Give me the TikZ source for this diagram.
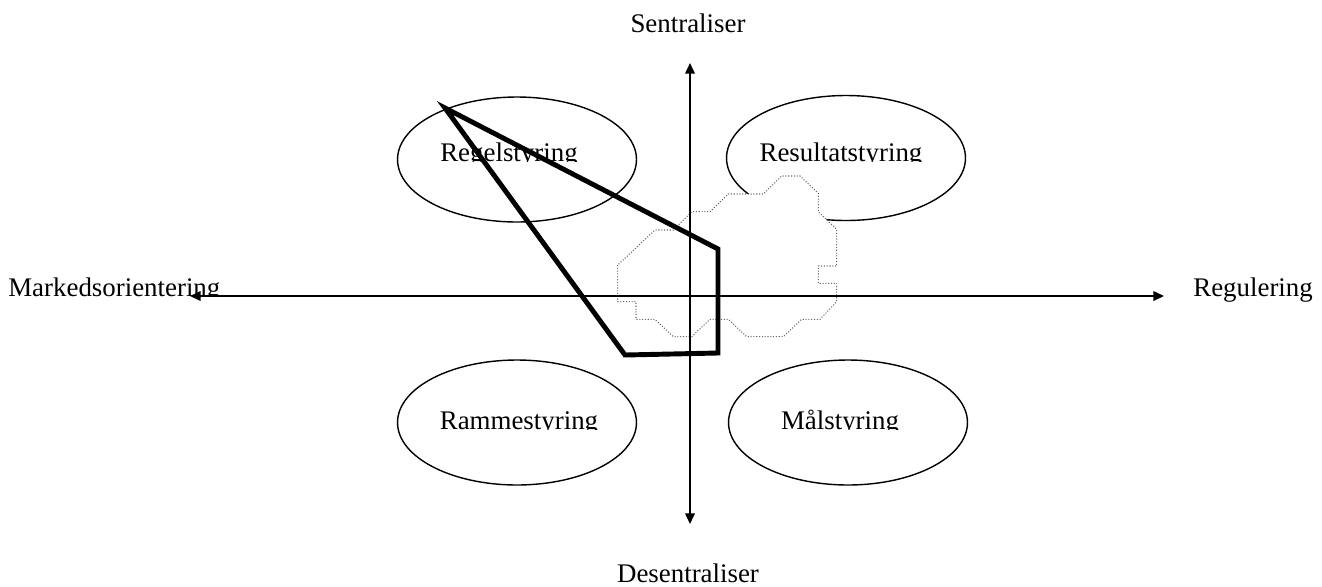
\documentclass[tikz,border=0pt]{standalone}
\usepackage{fontspec}
\setmainfont{Liberation Serif}
\usetikzlibrary{arrows.meta,shapes.geometric}

\begin{document}
\begin{tikzpicture}[x=0.02cm,y=-0.02cm,
  ell/.style={draw,ellipse,line width=0.8pt,minimum width=4.78cm,minimum height=2.5cm},
  txt/.style={anchor=base,inner sep=0pt,font=\fontsize{15.3}{18}\selectfont},
  axis/.style={line width=1pt,{Triangle[length=6pt,width=5.4pt]}-{Triangle[length=6pt,width=5.4pt]}},
  blob/.style={black!60,densely dotted,line width=0.6pt,fill=white},
  frame/.style={line width=2.8pt,line join=miter}]
\useasboundingbox (0,0) rectangle (1322,586);
\node[ell] (regel) at (517,159.5) {};
\node[ell] (resultat) at (846,158) {};
\node[ell] (ramme) at (517,422.5) {};
\node[ell] (maal) at (848,422.5) {};
\begin{scope}
\clip (0,100) rectangle (1322,161.5);
\node[txt] (regeltxt) at (509,161.5) {Regelstyring};
\node[txt] (resultattxt) at (841,161.5) {Resultatstyring};
\end{scope}
\begin{scope}
\clip (0,380) rectangle (1322,429);
\node[txt] (rammetxt) at (519,429) {Rammestyring};
\node[txt] (maaltxt) at (840,429) {Målstyring};
\end{scope}
\begin{scope}
\clip (0,250) rectangle (400,296);
\node[txt,anchor=base west] (marked) at (8,296) {Markedsorientering};
\end{scope}
\node[txt,anchor=base west] (regul) at (1193,296) {Regulering};
\node[txt] (sentral) at (688,32) {Sentraliser};
\node[txt] (desentral) at (688,582) {Desentraliser};
% skyen rundt dagens styring
\draw[blob] (617.7,265) -- (617.7,301.7) -- (636,301.7) -- (636,319.3) -- (655,319.3)
  -- (673.3,336.7) -- (691.7,336.7) -- (710,319.3) -- (728.3,319.3) -- (746.7,336.7)
  -- (783.3,336.7) -- (801.7,319.3) -- (820,319.3) -- (836.7,301.7) -- (836.7,283.3)
  -- (818.3,283.3) -- (818.3,266) -- (836.7,266) -- (836.7,229.3) -- (818.3,211.7)
  -- (818.3,193.3) -- (800,176) -- (781.7,176) -- (763.3,194) -- (728.3,194)
  -- (710,211.7) -- (691.7,211.7) -- (673.3,230) -- (655,230) -- cycle;
\coordinate (top) at (690,63);
\coordinate (bot) at (690,524);
\coordinate (west) at (190,296);
\coordinate (east) at (1164,296);
\draw[axis] (bot) -- (top);
\draw[axis] (west) -- (east);
\draw[frame] (445,108) -- (718,249) -- (718,353) -- (625,355) -- cycle;
\end{tikzpicture}
\end{document}
